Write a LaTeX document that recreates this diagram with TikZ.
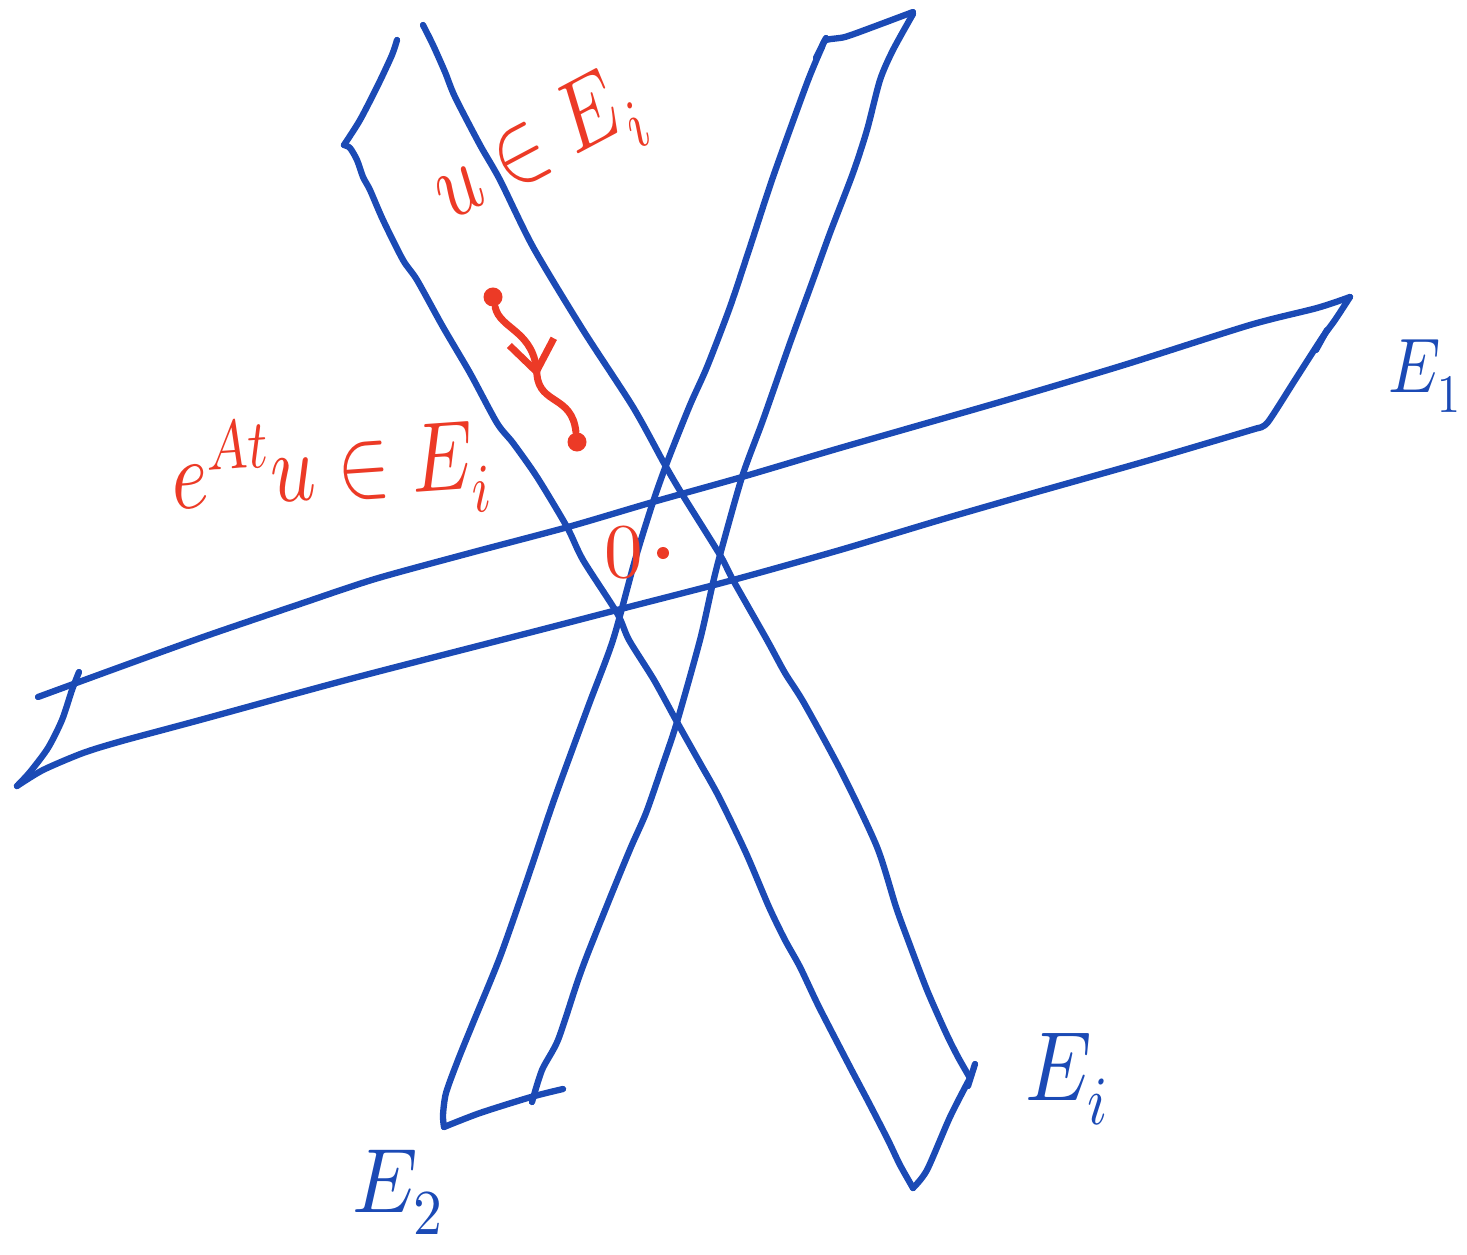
\documentclass[tikz,border=0pt]{standalone}
\usepackage{fontspec}
\usepackage{unicode-math}
\setmathfont{Latin Modern Math}
\usepackage{xcolor}
\usepackage{tikz}
\usetikzlibrary{arrows.meta,decorations.markings}

\definecolor{penblue}{RGB}{27,74,181}
\definecolor{penred}{RGB}{236,58,38}

\begin{document}
\begin{tikzpicture}[
    x=0.01cm, y=-0.01cm,
    band/.style={draw=penblue, line width=1.8pt, line cap=round, line join=round},
    lab/.style={text=penblue, inner sep=0pt, font=\fontsize{28}{32}\selectfont},
    redlab/.style={text=penred, inner sep=0pt, font=\fontsize{28}{32}\selectfont},
    dot/.style={circle, fill=penred, inner sep=0pt, minimum size=0.19cm},
    flow/.style={draw=penred, line width=2pt, line cap=round, postaction={decorate},
                 decoration={markings, mark=at position 0.55 with {\arrow{Straight Barb[length=3mm, width=4.5mm, line width=2pt]}}}}
]
    \useasboundingbox (0,0) rectangle (1467,1255);

    % E_1, the flat band
    \draw[band] plot[smooth, tension=0.45] coordinates {(38,697) (120,667) (206,636) (300,604) (375,579) (470,553) (568,527) (653,502) (742,477) (840,448) (1000,402) (1124,365) (1250,325) (1317,308) (1350,297)};
    \draw[band] plot[smooth, tension=0.45] coordinates {(1350,297) (1335,320) (1322,338) (1295,380) (1268,422) (1258,428)};
    \draw[band] plot[smooth, tension=0.45] coordinates {(1258,428) (1150,460) (1030,494) (940,520) (840,550) (733,580) (617,610) (540,630) (350,679) (200,720) (122,741) (83,753) (43,770) (17,786)};
    \draw[band] plot[smooth, tension=0.45] coordinates {(79,672) (72,690) (62,720) (48,748) (30,772) (17,786)};
    \draw[band] (1327,330) -- (1316,350);

    % E_2, the band rising to the right
    \draw[band] plot[smooth, tension=0.45] coordinates {(444,1127) (443,1115) (446,1093) (458,1060) (473,1023) (500,957) (527,880) (554,800) (588,707) (613,640) (635,560) (653,502) (668,460) (690,405) (707,367) (730,307) (750,247) (773,177) (807,83) (822,47)};
    \draw[band] plot[smooth, tension=0.45] coordinates {(822,47) (826,40) (845,37) (873,27) (913,12)};
    \draw[band] (816,58) -- (826,38);
    \draw[band] plot[smooth, tension=0.45] coordinates {(913,14) (893,50) (880,80) (867,130) (853,173) (830,233) (813,280) (790,343) (763,420) (742,477) (720,555) (712,587) (700,640) (677,722) (662,767) (646,813) (631,847) (612,893) (588,953) (577,983) (558,1040) (542,1070) (532,1102)};
    \draw[band] plot[smooth, tension=0.45] coordinates {(444,1127) (480,1113) (531,1097) (563,1089)};

    % E_i, the band falling to the right
    \draw[band] plot[smooth, tension=0.45] coordinates {(397,40) (392,55) (378,85) (360,120) (344,145)};
    \draw[band] plot[smooth, tension=0.45] coordinates {(344,145) (350,148) (357,160) (363,177) (370,190) (383,220) (403,260) (417,280) (443,327) (470,373) (497,423) (513,443) (537,477) (567,527) (583,560) (617,613) (629,640) (654,680) (677,722) (700,763) (719,797) (746,853) (769,907) (785,940) (800,967) (819,1007) (850,1067) (869,1103) (888,1140) (900,1165) (913,1188)};
    \draw[band] plot[smooth, tension=0.45] coordinates {(423,25) (433,45) (445,72) (455,97) (480,145) (500,180) (533,247) (583,330) (633,407) (665,465) (682,494) (720,555) (733,580) (767,640) (785,673) (804,703) (842,773) (877,847) (896,907) (908,940) (927,990) (946,1033) (958,1057) (970,1078)};
    \draw[band] plot[smooth, tension=0.45] coordinates {(970,1078) (950,1117) (927,1170) (913,1188)};
    \draw[band] (975,1064) -- (968,1086);

    % labels
    \node[lab, anchor=base west, xscale=0.85, font=\fontsize{22}{26}\selectfont] (e1lab) at (1388,393) {$E_1$};
    \node[lab, anchor=base west, xscale=0.9, font=\fontsize{26}{30}\selectfont] (e2lab) at (352,1212) {$E_2$};
    \node[lab, anchor=base west, xscale=0.85] (eilab) at (1025,1100) {$E_i$};

    \node[redlab, anchor=base, rotate=28, xscale=0.8] (ulab) at (548,170) {$u\;{\in}\;E_i$};
    \node[redlab, anchor=base, rotate=4, xscale=0.8] (etlab) at (333,498) {$e^{At}u\;{\in}\;E_i$};
    \node[redlab, font=\fontsize{22}{24}\selectfont] (zero) at (624,553) {$0$};
    \node[dot, minimum size=0.12cm] (orig) at (663,553) {};

    % trajectory
    \node[dot] (src) at (493,297) {};
    \node[dot] (tgt) at (577,442) {};
    \draw[flow] (src) .. controls (500,330) and (535,330) .. (537,375)
                      .. controls (540,405) and (572,395) .. (tgt);
\end{tikzpicture}
\end{document}
